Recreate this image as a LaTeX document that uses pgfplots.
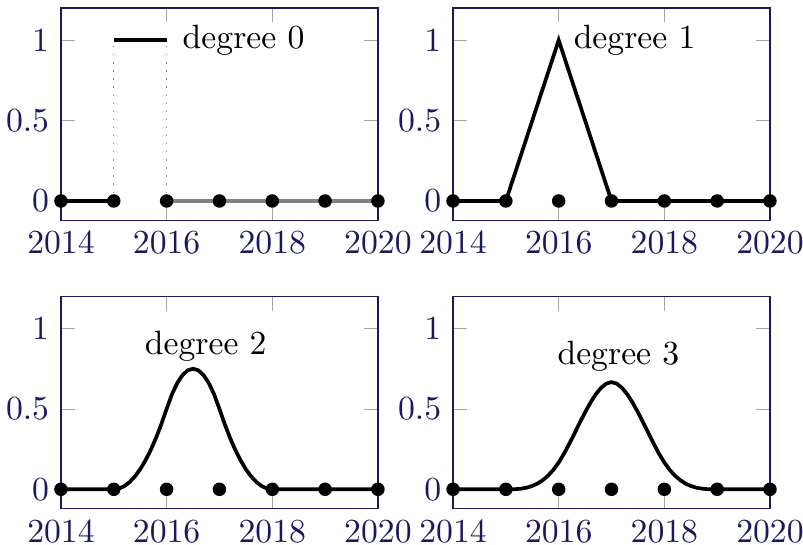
\documentclass[border=0pt]{standalone}
\usepackage{pgfplots}
\pgfplotsset{compat=1.18}
\usepgfplotslibrary{groupplots}
\definecolor{navyframe}{RGB}{25,25,95}
\begin{document}
\begin{tikzpicture}
\pgfplotsset{
  every axis/.append style={
    scale only axis, width=94.1pt, height=63pt,
    xmin=2014, xmax=2020, ymin=-0.12, ymax=1.2,
    xtick={2014,2016,2018,2020}, ytick={0,0.5,1},
    /pgf/number format/1000 sep={},
    axis line style={draw=navyframe},
    ticklabel style={color=navyframe},
    major tick style={gray!70},
  },
}
\begin{groupplot}[group style={group name=G, group size=2 by 2, horizontal sep=22.3pt, vertical sep=22.6pt}]
\nextgroupplot
\addplot[gray, dotted, line width=0.4pt] coordinates {(2015,0) (2015,1)};
\addplot[gray, dotted, line width=0.4pt] coordinates {(2016,0) (2016,1)};
\addplot[gray, line width=1.1pt] coordinates {(2016,0) (2020,0)};
\addplot[black, line width=1.1pt] coordinates {(2014,0) (2015,0)};
\addplot[black, line width=1.1pt] coordinates {(2015,1) (2016,1)};
\addplot[black, only marks, mark=*, mark size=1.8pt] coordinates {(2014,0) (2015,0) (2016,0) (2017,0) (2018,0) (2019,0) (2020,0)};
\node[anchor=west] at (axis cs:2016.08,1) {degree 0};
\nextgroupplot
\addplot[black, line width=1.1pt] coordinates {(2014,0) (2015,0) (2016,1) (2017,0) (2020,0)};
\addplot[black, only marks, mark=*, mark size=1.8pt] coordinates {(2014,0) (2015,0) (2016,0) (2017,0) (2018,0) (2019,0) (2020,0)};
\node[anchor=west] at (axis cs:2016.06,1) {degree 1};
\nextgroupplot
\addplot[black, line width=1.1pt] coordinates {
(2014,0) (2015,0) (2015.1,0.005) (2015.2,0.02) (2015.3,0.045) (2015.4,0.08) (2015.5,0.125)
(2015.6,0.18) (2015.7,0.245) (2015.8,0.32) (2015.9,0.405) (2016,0.5)
(2016.1,0.59) (2016.2,0.66) (2016.3,0.71) (2016.4,0.74) (2016.5,0.75)
(2016.6,0.74) (2016.7,0.71) (2016.8,0.66) (2016.9,0.59) (2017,0.5)
(2017.1,0.405) (2017.2,0.32) (2017.3,0.245) (2017.4,0.18) (2017.5,0.125)
(2017.6,0.08) (2017.7,0.045) (2017.8,0.02) (2017.9,0.005) (2018,0) (2020,0)};
\addplot[black, only marks, mark=*, mark size=1.8pt] coordinates {(2014,0) (2015,0) (2016,0) (2017,0) (2018,0) (2019,0) (2020,0)};
\node at (axis cs:2016.74,0.89) {degree 2};
\nextgroupplot
\addplot[black, line width=1.1pt] coordinates {
(2014,0) (2015,0) (2015.1,0.00017) (2015.2,0.00133) (2015.3,0.0045) (2015.4,0.01067) (2015.5,0.02083)
(2015.6,0.036) (2015.7,0.05717) (2015.8,0.08533) (2015.9,0.1215) (2016,0.16667)
(2016.1,0.22117) (2016.2,0.28267) (2016.3,0.34817) (2016.4,0.41467) (2016.5,0.47917)
(2016.6,0.53867) (2016.7,0.59017) (2016.8,0.63067) (2016.9,0.65717) (2017,0.66667)
(2017.1,0.65717) (2017.2,0.63067) (2017.3,0.59017) (2017.4,0.53867) (2017.5,0.47917)
(2017.6,0.41467) (2017.7,0.34817) (2017.8,0.28267) (2017.9,0.22117) (2018,0.16667)
(2018.1,0.1215) (2018.2,0.08533) (2018.3,0.05717) (2018.4,0.036) (2018.5,0.02083)
(2018.6,0.01067) (2018.7,0.0045) (2018.8,0.00133) (2018.9,0.00017) (2019,0) (2020,0)};
\addplot[black, only marks, mark=*, mark size=1.8pt] coordinates {(2014,0) (2015,0) (2016,0) (2017,0) (2018,0) (2019,0) (2020,0)};
\node at (axis cs:2017.13,0.83) {degree 3};
\end{groupplot}
\pgfresetboundingbox
\path ([shift={(-18.1pt,2.4pt)}]G c1r1.north west) rectangle ([shift={(9.8pt,-10.7pt)}]G c2r2.south east);
\end{tikzpicture}
\end{document}
